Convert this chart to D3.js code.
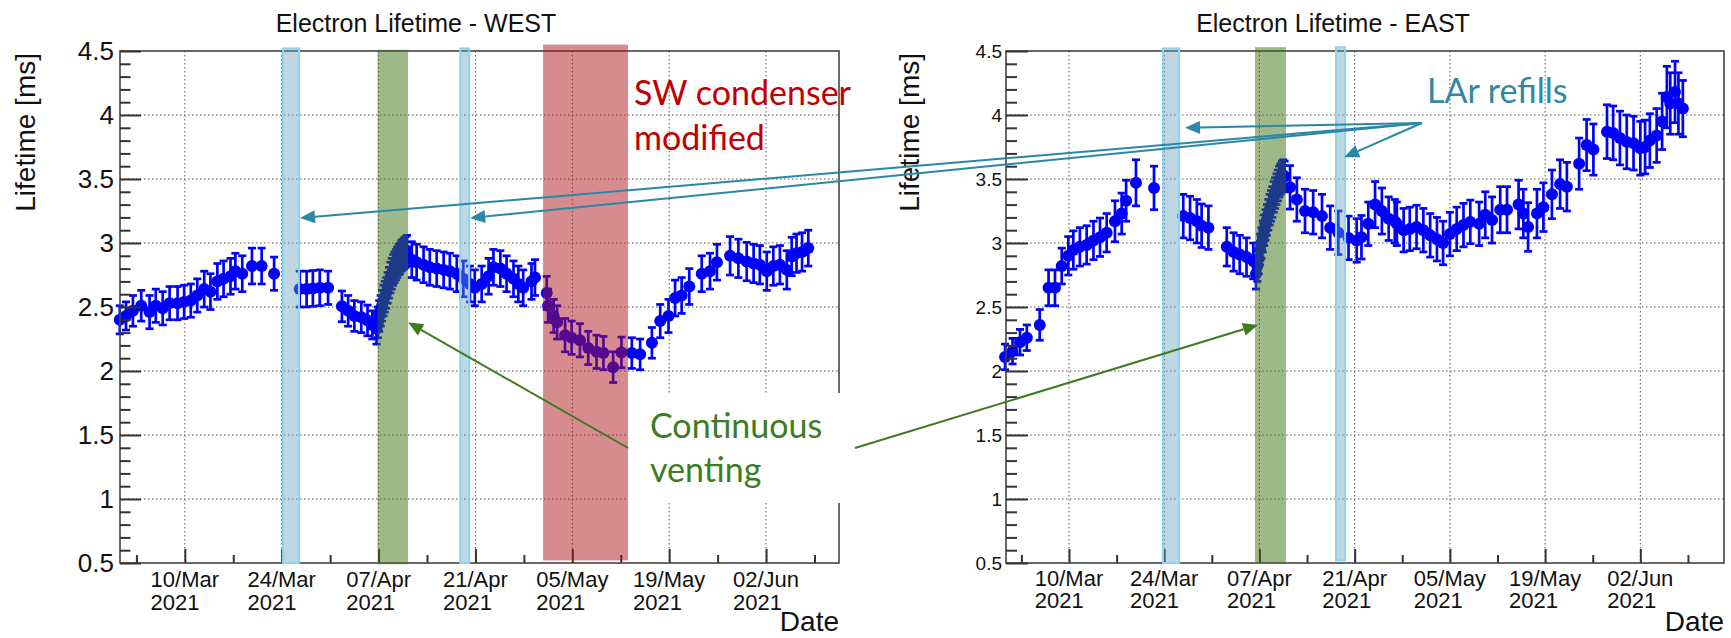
<!DOCTYPE html>
<html>
<head>
<meta charset="utf-8">
<script src="https://cdn.jsdelivr.net/npm/d3@7"></script>
<style>
  body { margin: 0; background: #fff; }
  svg { display: block; }
</style>
</head>
<body>
<svg id="chart" width="1731" height="638"></svg>
<script>
// days are counted from 10/Mar/2021
const dayMs = 864e5
const refDay = Date.UTC(2021, 2, 10)
const toDate = (d) => new Date(refDay + d * dayMs)

const majorTickDays = [0, 14, 28, 42, 56, 70, 84]
const minorTickDays = [-7, 7, 21, 35, 49, 63, 77, 91]
const yMajorTicks = [0.5, 1, 1.5, 2, 2.5, 3, 3.5, 4, 4.5]

// [day, lifetime ms, error]
const westPoints = [
  [-9.4, 2.40, 0.11], [-8.5, 2.43, 0.11], [-7.5, 2.47, 0.12], [-6.3, 2.51, 0.12], [-5.1, 2.46, 0.13],
  [-4.2, 2.51, 0.13], [-3.2, 2.49, 0.13], [-2.2, 2.53, 0.13], [-1.05, 2.53, 0.13], [-0.1, 2.54, 0.13],
  [0.86, 2.55, 0.13], [1.8, 2.59, 0.13], [2.8, 2.64, 0.14], [3.7, 2.62, 0.14], [4.7, 2.70, 0.14],
  [5.6, 2.72, 0.14], [6.6, 2.74, 0.14], [7.3, 2.78, 0.14], [8.3, 2.76, 0.14], [9.7, 2.82, 0.14],
  [11.1, 2.82, 0.14], [12.9, 2.76, 0.13],
  [16.6, 2.64, 0.14], [17.6, 2.64, 0.14], [18.5, 2.645, 0.14], [19.5, 2.65, 0.14], [20.7, 2.65, 0.13],
  [22.7, 2.505, 0.12], [23.6, 2.47, 0.12], [24.5, 2.43, 0.12], [25.5, 2.42, 0.12], [26.4, 2.395, 0.12],
  [27.1, 2.36, 0.11]
]
const westVenting = [
  [27.7, 2.33], [27.9, 2.38], [28.1, 2.43], [28.3, 2.47], [28.5, 2.51], [28.7, 2.55], [28.9, 2.58],
  [29.1, 2.61], [29.3, 2.65], [29.5, 2.69], [29.7, 2.73], [29.9, 2.76], [30.1, 2.79], [30.3, 2.81],
  [30.5, 2.83], [30.7, 2.85], [30.9, 2.87], [31.1, 2.88], [31.3, 2.90], [31.5, 2.91], [31.7, 2.92],
  [31.9, 2.93], [32.1, 2.94]
]
const westPointsLate = [
  [32.8, 2.87, 0.14], [33.5, 2.85, 0.14], [34.5, 2.83, 0.14], [35.4, 2.81, 0.14], [36.4, 2.80, 0.14],
  [37.4, 2.79, 0.14], [38.3, 2.78, 0.14], [39.3, 2.76, 0.14], [40.25, 2.72, 0.14], [41.2, 2.68, 0.14],
  [41.9, 2.65, 0.14], [42.9, 2.68, 0.14], [43.9, 2.74, 0.14], [44.6, 2.81, 0.14], [45.6, 2.80, 0.14],
  [46.5, 2.76, 0.14], [47.5, 2.72, 0.14], [48.2, 2.68, 0.14], [48.9, 2.65, 0.14], [50.1, 2.70, 0.14],
  [50.6, 2.73, 0.14],
  [52.3, 2.61, 0.13], [52.5, 2.51, 0.13], [53.3, 2.43, 0.13], [53.8, 2.38, 0.13], [54.95, 2.28, 0.13],
  [55.9, 2.26, 0.13], [57.1, 2.24, 0.13], [58.3, 2.18, 0.13], [59.5, 2.15, 0.13], [60.5, 2.14, 0.13],
  [61.9, 2.03, 0.12], [63.1, 2.145, 0.12],
  [64.6, 2.14, 0.12], [65.8, 2.13, 0.12], [67.5, 2.22, 0.12], [68.7, 2.39, 0.13], [69.9, 2.43, 0.13],
  [70.85, 2.57, 0.14], [71.8, 2.59, 0.14], [72.9, 2.66, 0.14], [74.7, 2.76, 0.14], [75.9, 2.78, 0.14],
  [76.9, 2.85, 0.14], [78.8, 2.90, 0.15], [80.0, 2.88, 0.15], [81.2, 2.855, 0.15], [82.2, 2.84, 0.15],
  [83.1, 2.83, 0.15], [84.1, 2.78, 0.15], [85.05, 2.82, 0.15], [86.0, 2.83, 0.15], [87.0, 2.79, 0.15],
  [87.7, 2.895, 0.15], [88.4, 2.92, 0.15], [89.2, 2.93, 0.15], [90.1, 2.96, 0.14]
]

const eastPoints = [
  [-9.4, 2.11, 0.10], [-8.3, 2.155, 0.10], [-7.2, 2.225, 0.10], [-6.2, 2.26, 0.10], [-4.3, 2.36, 0.12],
  [-3.0, 2.65, 0.14], [-2.06, 2.65, 0.14], [-1.07, 2.82, 0.14], [-0.1, 2.90, 0.15], [0.64, 2.945, 0.15],
  [1.6, 2.97, 0.15], [2.6, 2.985, 0.15], [3.6, 3.02, 0.15], [4.56, 3.045, 0.15], [5.54, 3.08, 0.15],
  [6.76, 3.17, 0.16], [7.75, 3.23, 0.16], [8.4, 3.33, 0.16], [9.85, 3.47, 0.18], [12.5, 3.43, 0.17],
  [16.8, 3.21, 0.17], [17.8, 3.195, 0.17], [18.8, 3.17, 0.17], [19.5, 3.135, 0.17], [20.5, 3.12, 0.17],
  [23.2, 2.97, 0.15], [24.2, 2.93, 0.15], [25.1, 2.91, 0.15], [26.1, 2.89, 0.15], [27.1, 2.86, 0.14]
]
const eastVenting = [
  [27.5, 2.76], [27.7, 2.82], [27.9, 2.88], [28.1, 2.95], [28.3, 3.00], [28.5, 3.05], [28.7, 3.10],
  [28.9, 3.14], [29.1, 3.18], [29.3, 3.22], [29.5, 3.26], [29.7, 3.29], [29.9, 3.32], [30.1, 3.36],
  [30.3, 3.39], [30.5, 3.42], [30.7, 3.45], [30.9, 3.48], [31.1, 3.50], [31.3, 3.52], [31.5, 3.53],
  [31.7, 3.52]
]
const eastPointsLate = [
  [32.5, 3.435, 0.17], [33.5, 3.34, 0.17], [34.7, 3.25, 0.17], [35.9, 3.24, 0.17], [37.2, 3.21, 0.17],
  [38.4, 3.12, 0.17], [39.6, 3.08, 0.17], [41.1, 3.04, 0.17], [42.3, 3.02, 0.17], [43.0, 3.045, 0.17],
  [44.0, 3.15, 0.17], [45.0, 3.30, 0.18], [46.0, 3.25, 0.18], [47.0, 3.19, 0.17], [47.9, 3.17, 0.17],
  [48.2, 3.15, 0.17], [49.2, 3.10, 0.17], [50.1, 3.11, 0.17], [51.1, 3.125, 0.17], [52.1, 3.10, 0.17],
  [53.1, 3.06, 0.17], [54.1, 3.03, 0.17], [55.0, 3.00, 0.17], [56.0, 3.07, 0.17], [57.0, 3.11, 0.17],
  [58.0, 3.14, 0.17], [59.0, 3.165, 0.17], [60.3, 3.15, 0.17], [61.2, 3.22, 0.18], [62.2, 3.18, 0.18],
  [63.4, 3.26, 0.18], [64.4, 3.26, 0.18], [66.1, 3.30, 0.19], [66.8, 3.23, 0.19], [67.5, 3.125, 0.19],
  [68.8, 3.23, 0.19], [69.75, 3.28, 0.19], [71.0, 3.38, 0.19], [72.2, 3.46, 0.19], [73.2, 3.44, 0.19],
  [75.0, 3.62, 0.2], [76.1, 3.765, 0.2], [77.1, 3.73, 0.2], [79.1, 3.87, 0.21], [80.0, 3.86, 0.21],
  [81.0, 3.82, 0.21], [82.0, 3.79, 0.21], [83.0, 3.78, 0.21], [84.0, 3.74, 0.21], [84.7, 3.75, 0.21],
  [85.4, 3.80, 0.21], [86.4, 3.84, 0.21], [87.2, 3.95, 0.22], [87.9, 4.14, 0.24], [88.4, 4.09, 0.24],
  [89.1, 4.18, 0.24], [89.6, 4.09, 0.24], [90.25, 4.05, 0.22]
]

// shaded periods [from day, to day, low, high]
const westRefills = [[14.19, 16.5, 0.5, 4.52], [39.8, 41.1, 0.5, 4.52]]
const westVentBand = [27.85, 32.26, 0.49, 4.51]
const westCondenserBand = [51.77, 64.05, 0.52, 4.55]
const eastRefills = [[13.82, 16.18, 0.5, 4.52], [39.26, 40.6, 0.52, 4.53]]
const eastVentBand = [27.35, 31.9, 0.5, 4.53]

const svg = d3.select('#chart')
const fmtDay = d3.utcFormat('%d/%b')
const fmtYear = d3.utcFormat('%Y')
const axisFont = 'Liberation Sans, Arial, sans-serif'

const createPanel = (cfg) => {
  const xScale = d3.scaleUtc().domain(cfg.xDomain.map(toDate)).range([cfg.left, cfg.right])
  const yScale = d3.scaleLinear().domain([0.5, 4.5]).range([cfg.bottom, cfg.top])
  const xd = (d) => xScale(toDate(d))
  const g = svg.append('g')

  // dotted grid
  g.selectAll('line.vgrid').data(majorTickDays).enter().append('line')
    .attr('x1', xd).attr('x2', xd).attr('y1', cfg.top).attr('y2', cfg.bottom)
    .attr('stroke', '#555').attr('stroke-width', 1).attr('stroke-dasharray', '1.5,2.5')
  g.selectAll('line.hgrid').data(yMajorTicks.slice(1, -1)).enter().append('line')
    .attr('x1', cfg.left).attr('x2', cfg.right).attr('y1', (d) => yScale(d)).attr('y2', (d) => yScale(d))
    .attr('stroke', '#555').attr('stroke-width', 1).attr('stroke-dasharray', '1.5,2.5')

  // points with error bars
  const all = cfg.points.concat(cfg.venting.map((p) => [p[0], p[1], 0.12]))
  const pts = g.append('g').attr('stroke', '#0000ff').attr('fill', '#0000ff').attr('stroke-width', 2.7)
  const one = pts.selectAll('g').data(all).enter().append('g')
  one.append('line')
    .attr('x1', (d) => xd(d[0])).attr('x2', (d) => xd(d[0]))
    .attr('y1', (d) => yScale(d[1] - d[2])).attr('y2', (d) => yScale(d[1] + d[2]))
  one.append('line')
    .attr('x1', (d) => xd(d[0]) - 4).attr('x2', (d) => xd(d[0]) + 4)
    .attr('y1', (d) => yScale(d[1] + d[2])).attr('y2', (d) => yScale(d[1] + d[2]))
  one.append('line')
    .attr('x1', (d) => xd(d[0]) - 4).attr('x2', (d) => xd(d[0]) + 4)
    .attr('y1', (d) => yScale(d[1] - d[2])).attr('y2', (d) => yScale(d[1] - d[2]))
  one.append('circle')
    .attr('cx', (d) => xd(d[0])).attr('cy', (d) => yScale(d[1])).attr('r', 6).attr('stroke', 'none')

  // frame
  g.append('rect').attr('x', cfg.left).attr('y', cfg.top)
    .attr('width', cfg.right - cfg.left).attr('height', cfg.bottom - cfg.top)
    .attr('fill', 'none').attr('stroke', '#444').attr('stroke-width', 1.6)

  // axes
  const xAxis = d3.axisBottom(xScale).tickValues(majorTickDays.map(toDate)).tickSizeInner(-14).tickSizeOuter(0).tickFormat('')
  const xMinor = d3.axisBottom(xScale).tickValues(minorTickDays.map(toDate)).tickSizeInner(-8).tickSizeOuter(0).tickFormat('')
  const yAxis = d3.axisLeft(yScale).tickValues(yMajorTicks).tickSizeInner(-cfg.yMajor).tickSizeOuter(0)
    .tickPadding(cfg.yPad).tickFormat((d) => String(d))
  const yMinor = d3.axisLeft(yScale)
    .tickValues(d3.range(6, 45).map((v) => v / 10).filter((v) => Math.round(v * 10) % 5 !== 0))
    .tickSizeInner(-cfg.yMajor / 2).tickSizeOuter(0).tickFormat('')

  ;[xAxis, xMinor].forEach((ax) => {
    g.append('g').attr('transform', `translate(0, ${cfg.bottom})`).call(ax)
      .call((s) => s.select('.domain').remove())
      .selectAll('line').attr('stroke', '#333').attr('stroke-width', 2)
  })
  ;[yAxis, yMinor].forEach((ax) => {
    const a = g.append('g').attr('transform', `translate(${cfg.left}, 0)`).call(ax)
      .call((s) => s.select('.domain').remove())
    a.selectAll('line').attr('stroke', '#333').attr('stroke-width', 2)
    a.selectAll('text').attr('font-family', axisFont).attr('font-size', cfg.yFont).attr('fill', '#111')
  })

  // two-line date labels, left aligned like ROOT #splitline
  majorTickDays.forEach((d) => {
    const t = g.append('text').attr('font-family', axisFont).attr('font-size', 22).attr('fill', '#111')
    const l1 = t.append('tspan').attr('y', cfg.lab1).text(fmtDay(toDate(d)))
    t.append('tspan').attr('y', cfg.lab2).text(fmtYear(toDate(d)))
    const w = l1.node().getComputedTextLength()
    t.selectAll('tspan').attr('x', xd(d) - w / 2)
  })

  // titles
  g.append('text').attr('x', cfg.titleX).attr('y', 32).attr('text-anchor', 'middle')
    .attr('font-family', axisFont).attr('font-size', 25).attr('fill', '#111')
    .text(cfg.title)
  g.append('text').attr('x', cfg.right).attr('y', 631).attr('text-anchor', 'end')
    .attr('font-family', axisFont).attr('font-size', 28).attr('fill', '#111')
    .text('Date')
  g.append('text').attr('transform', `translate(${cfg.yTitleX}, 53) rotate(-90)`).attr('text-anchor', 'end')
    .attr('font-family', axisFont).attr('font-size', 28).attr('fill', '#111')
    .text('Lifetime [ms]')

  // shaded periods on top of the points
  const band = (b, fill, stroke) => {
    g.append('rect').attr('x', xd(b[0])).attr('width', xd(b[1]) - xd(b[0]))
      .attr('y', yScale(b[3])).attr('height', yScale(b[2]) - yScale(b[3]))
      .attr('fill', fill).attr('stroke', stroke || 'none').attr('stroke-width', 2)
  }
  cfg.refills.forEach((b) => band(b, 'rgba(100,160,185,0.42)', '#8fd3ee'))
  band(cfg.ventBand, 'rgba(61,114,20,0.5)')
  if (cfg.condenserBand) band(cfg.condenserBand, 'rgba(171,20,26,0.49)')

  return { xd, yScale }
}

const west = createPanel({
  left: 120, right: 839, top: 51, bottom: 563, xDomain: [-9.37, 94.54],
  points: westPoints.concat(westPointsLate), venting: westVenting,
  refills: westRefills, ventBand: westVentBand, condenserBand: westCondenserBand,
  yMajor: 21, yPad: 6, yFont: 26, lab1: 587, lab2: 610,
  title: 'Electron Lifetime - WEST', titleX: 416, yTitleX: 35
})
const east = createPanel({
  left: 1006, right: 1724, top: 51, bottom: 563, xDomain: [-9.26, 96.3],
  points: eastPoints.concat(eastPointsLate), venting: eastVenting,
  refills: eastRefills, ventBand: eastVentBand,
  yMajor: 22, yPad: 4, yFont: 19, lab1: 586, lab2: 608,
  title: 'Electron Lifetime - EAST', titleX: 1333, yTitleX: 919
})

// annotations
const arrow = (x1, y1, x2, y2, color) => {
  const a = Math.atan2(y2 - y1, x2 - x1)
  const len = 15, half = 6.5
  const bx = x2 - len * Math.cos(a), by = y2 - len * Math.sin(a)
  svg.append('line').attr('x1', x1).attr('y1', y1).attr('x2', bx).attr('y2', by)
    .attr('stroke', color).attr('stroke-width', 2)
  svg.append('path')
    .attr('d', `M${x2},${y2}L${bx + half * Math.sin(a)},${by - half * Math.cos(a)}L${bx - half * Math.sin(a)},${by + half * Math.cos(a)}Z`)
    .attr('fill', color)
}

const note = (lines, x, y0, step, color) => {
  const t = svg.append('text').attr('font-family', 'Lato, Open Sans, sans-serif').attr('font-size', 34).attr('fill', color)
  lines.forEach((s, i) => t.append('tspan').attr('x', x).attr('y', y0 + i * step).text(s))
}

// white box behind the venting note
svg.append('rect').attr('x', 628).attr('y', 393).attr('width', 227).attr('height', 110).attr('fill', '#fff')

const teal = '#2a87a6'
const green = '#3f7a1f'
arrow(1422, 123, west.xd(westRefills[0][1]) + 1, west.yScale(3.195), teal)
arrow(1422, 123, west.xd(westRefills[1][1]) + 1, west.yScale(3.195), teal)
arrow(1422, 123, east.xd(eastRefills[0][1]) + 6, east.yScale(3.9), teal)
arrow(1422, 123, east.xd(eastRefills[1][1]) - 1, east.yScale(3.67), teal)
arrow(628, 448, west.xd(westVentBand[1]), west.yScale(2.38), green)
arrow(855, 448, east.xd(eastVentBand[0]) + 3, east.yScale(2.36), green)

note(['SW condenser', 'modified'], 634, 105, 45, '#c00000')
note(['LAr refills'], 1427, 103, 45, '#2f87a3')
note(['Continuous', 'venting'], 650, 438, 44, '#3b7d23')
</script>
</body>
</html>
